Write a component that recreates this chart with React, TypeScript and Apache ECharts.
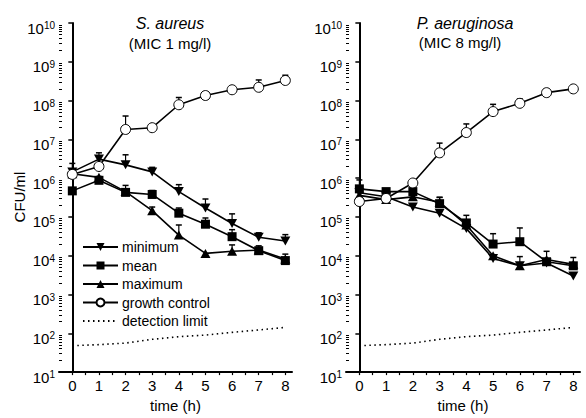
import React, { useEffect, useRef } from 'react';
import * as echarts from 'echarts';

const hours = [0, 1, 2, 3, 4, 5, 6, 7, 8];
const xTickLabels = [0, 1, 2, 3, 4, 5, 6, 7, 8];
const xTickMarks = [0, 0.5, 1, 1.5, 2, 2.5, 3, 3.5, 4, 4.5, 5, 5.5, 6, 6.5, 7, 7.5, 8];
const seriesNames = ['minimum', 'mean', 'maximum', 'growth control', 'detection limit'];
const panelTitles = ['S. aureus', 'P. aeruginosa'];
const panelSubtitles = ['(MIC 1 mg/l)', '(MIC 8 mg/l)'];

// S. aureus
const saMinimum = [1.45e6, 3.1e6, 2.2e6, 1.45e6, 4.5e5, 1.7e5, 6.8e4, 3.0e4, 2.4e4];
const saMean = [4.7e5, 8.8e5, 4.3e5, 3.8e5, 1.25e5, 6.5e4, 3.1e4, 1.35e4, 7.5e3];
const saMaximum = [1.3e6, 1.05e6, 4.5e5, 1.45e5, 3.4e4, 1.15e4, 1.3e4, 1.4e4, 8.2e3];
const saGrowth = [1.25e6, 2.0e6, 1.8e7, 2.0e7, 7.8e7, 1.35e8, 1.9e8, 2.2e8, 3.3e8];
const saDetection = [48, 51, 56, 70, 82, 90, 106, 122, 142];
const saMinimumUpper = [2.4e6, 4.5e6, 4.0e6, 1.9e6, 6.8e5, 2.9e5, 1.2e5, 3.9e4, 3.5e4];
const saMeanUpper = [null, 1.1e6, 6.5e5, 4.8e5, 1.7e5, 9.4e4, 4.7e4, 1.8e4, 1.1e4];
const saMaximumUpper = [null, null, null, 1.8e5, 6.2e4, null, 1.9e4, null, null];
const saGrowthUpper = [null, null, 4.0e7, 2.5e7, 1.2e8, null, 2.4e8, 3.4e8, 4.5e8];

// P. aeruginosa
const paMinimum = [4.2e5, 3.3e5, 1.8e5, 1.25e5, 5.0e4, 8.5e3, 5.5e3, 6.5e3, 3.0e3];
const paMean = [5.3e5, 4.5e5, 4.5e5, 2.2e5, 7.0e4, 2.0e4, 2.3e4, 7.0e3, 5.5e3];
const paMaximum = [3.6e5, 2.8e5, 3.3e5, 2.4e5, 6.2e4, 1.0e4, 5.5e3, 8.0e3, 6.0e3];
const paGrowth = [2.5e5, 3.0e5, 7.5e5, 4.5e6, 1.5e7, 5.2e7, 8.5e7, 1.6e8, 2.0e8];
const paDetection = [48, 51, 56, 70, 82, 90, 106, 122, 142];
const paMinimumUpper = [null, null, null, null, null, null, 9.5e3, null, null];
const paMeanUpper = [9.0e5, null, null, 3.2e5, 1.1e5, 3.7e4, 5.2e4, 1.3e4, 9.0e3];
const paMaximumUpper = [null, null, null, 3.2e5, null, null, null, null, null];
const paGrowthUpper = [null, null, null, 8.0e6, 2.5e7, 8.0e7, 1.1e8, null, null];

const FONT = '"Liberation Sans", Arial, Helvetica, sans-serif';

const minorTickValues: number[] = [];
for (let d = 1; d < 10; d++) {
  for (let k = 2; k <= 9; k++) minorTickValues.push(d + Math.log10(k));
}

const downTriangle = 'path://M0,0L10,0L5,9Z';

function pairs(vals: number[]) {
  return hours.map((h, i) => [h, vals[i]]);
}

function errPairs(vals: number[], ups: (number | null)[]) {
  const out: number[][] = [];
  hours.forEach((h, i) => {
    const u = ups[i];
    if (u != null) out.push([h, vals[i], u]);
  });
  return out;
}

function panel(gi: number, d: any) {
  const xi = gi;
  const yi = gi * 2;
  const lineStyle = { color: '#000', width: 1.6 };
  const base = { type: 'line', xAxisIndex: xi, yAxisIndex: yi, z: 3 };
  const errorSeries = (vals: number[], ups: (number | null)[]) => ({
    type: 'custom',
    xAxisIndex: xi,
    yAxisIndex: yi,
    z: 1,
    silent: true,
    encode: { x: 0, y: [1, 2] },
    data: errPairs(vals, ups),
    renderItem: (params: any, api: any) => {
      const x = api.value(0);
      const y = api.value(1);
      const u = api.value(2);
      const p0 = api.coord([x, y]);
      const p1 = api.coord([x, u]);
      return {
        type: 'group',
        children: [
          { type: 'line', shape: { x1: p0[0], y1: p0[1], x2: p1[0], y2: p1[1] }, style: { stroke: '#000', lineWidth: 1.2 } },
          { type: 'line', shape: { x1: p1[0] - 3, y1: p1[1], x2: p1[0] + 3, y2: p1[1] }, style: { stroke: '#000', lineWidth: 1.5 } },
        ],
      };
    },
  });
  return [
    errorSeries(d.min, d.minUp),
    errorSeries(d.mean, d.meanUp),
    errorSeries(d.max, d.maxUp),
    errorSeries(d.growth, d.growthUp),
    {
      ...base, name: seriesNames[0], data: pairs(d.min), symbol: downTriangle, symbolSize: [10, 9],
      itemStyle: { color: '#000' }, lineStyle,
    },
    {
      ...base, name: seriesNames[1], data: pairs(d.mean), symbol: 'rect', symbolSize: 9,
      itemStyle: { color: '#000' }, lineStyle,
    },
    {
      ...base, name: seriesNames[2], data: pairs(d.max), symbol: 'triangle', symbolSize: [10, 9],
      itemStyle: { color: '#000' }, lineStyle,
    },
    {
      ...base, name: seriesNames[3], data: pairs(d.growth), symbol: 'circle', symbolSize: 10, z: 4,
      itemStyle: { color: '#fff', borderColor: '#000', borderWidth: 1 }, lineStyle,
    },
    {
      ...base, name: seriesNames[4], data: pairs(d.det), symbol: 'none',
      lineStyle: { color: '#000', width: 1.6, type: [1.5, 3.5] }, itemStyle: { color: '#000' },
    },
  ];
}

function yAxes(gi: number) {
  return [
    {
      type: 'log', logBase: 10, gridIndex: gi, min: 10, max: 1e10, position: 'left',
      axisLine: { show: true, lineStyle: { color: '#000', width: 2 } },
      axisTick: { show: true, length: 4, lineStyle: { color: '#000', width: 1.5 } },
      splitLine: { show: false },
      axisLabel: {
        margin: 4,
        color: '#000',
        fontFamily: FONT,
        padding: [10, 0, 0, 0],
        formatter: (v: number) => `{b|10}{s|${Math.round(Math.log10(v))}}`,
        rich: {
          b: { fontSize: 15, fontFamily: FONT, color: '#000', lineHeight: 15, verticalAlign: 'bottom' },
          s: { fontSize: 10, fontFamily: FONT, color: '#000', lineHeight: 10, verticalAlign: 'top', padding: [0, 0, 9, 0] },
        },
      },
    },
    {
      type: 'value', gridIndex: gi, min: 1, max: 10, position: 'left',
      axisLine: { show: false },
      axisLabel: { show: false },
      splitLine: { show: false },
      axisTick: { show: true, inside: true, length: 3, customValues: minorTickValues, lineStyle: { color: '#000', width: 1 } },
    },
  ];
}

function xAxis(gi: number) {
  return {
    type: 'value', gridIndex: gi, min: -0.5, max: 8.25,
    name: 'time (h)', nameLocation: 'middle', nameGap: 20,
    nameTextStyle: { fontSize: 15, fontFamily: FONT, color: '#000' },
    axisLine: { show: true, lineStyle: { color: '#000', width: 2 } },
    axisTick: { show: true, length: 3, customValues: xTickMarks, lineStyle: { color: '#000', width: 1.2 } },
    axisLabel: { customValues: xTickLabels, margin: 6, fontSize: 15, fontFamily: FONT, color: '#000' },
    splitLine: { show: false },
  };
}

export default function App() {
  const ref = useRef<HTMLDivElement>(null);
  useEffect(() => {
    if (!ref.current) return;
    const chart = echarts.init(ref.current, undefined, { renderer: 'svg' });
    const left = panel(0, {
      min: saMinimum, mean: saMean, max: saMaximum, growth: saGrowth, det: saDetection,
      minUp: saMinimumUpper, meanUp: saMeanUpper, maxUp: saMaximumUpper, growthUp: saGrowthUpper,
    });
    const right = panel(1, {
      min: paMinimum, mean: paMean, max: paMaximum, growth: paGrowth, det: paDetection,
      minUp: paMinimumUpper, meanUp: paMeanUpper, maxUp: paMaximumUpper, growthUp: paGrowthUpper,
    });
    chart.setOption({
      animation: false,
      backgroundColor: '#fff',
      textStyle: { fontFamily: FONT },
      grid: [
        { left: 59, top: 23, width: 233, height: 361 },
        { left: 346, top: 23, width: 234, height: 361 },
      ],
      xAxis: [xAxis(0), xAxis(1)],
      yAxis: [...yAxes(0), ...yAxes(1)],
      legend: {
        data: [
          seriesNames[0], seriesNames[1], seriesNames[2], seriesNames[3],
          { name: seriesNames[4], itemStyle: { opacity: 0 } },
        ],
        orient: 'vertical',
        left: 77,
        top: 235,
        itemWidth: 35,
        itemHeight: 10,
        itemGap: 4.5,
        selectedMode: false,
        textStyle: { fontSize: 14, fontFamily: FONT, color: '#000', padding: [0, 0, 0, -1] },
      },
      graphic: [
        { type: 'text', x: 170, y: 23, style: { text: panelTitles[0], font: `italic 16px ${FONT}`, fill: '#000', align: 'center', verticalAlign: 'middle' } },
        { type: 'text', x: 170, y: 43, style: { text: panelSubtitles[0], font: `15px ${FONT}`, fill: '#000', align: 'center', verticalAlign: 'middle' } },
        { type: 'text', x: 465, y: 23, style: { text: panelTitles[1], font: `italic 16px ${FONT}`, fill: '#000', align: 'center', verticalAlign: 'middle' } },
        { type: 'text', x: 460, y: 42, style: { text: panelSubtitles[1], font: `15px ${FONT}`, fill: '#000', align: 'center', verticalAlign: 'middle' } },
        { type: 'text', x: 19, y: 197, rotation: Math.PI / 2, style: { text: 'CFU/ml', font: `15px ${FONT}`, fill: '#000', align: 'center', verticalAlign: 'middle' } },
      ],
      series: [...left, ...right],
    });
    return () => chart.dispose();
  }, []);
  return <div ref={ref} style={{ position: 'fixed', left: 0, top: 0, width: 586, height: 418 }} />;
}
